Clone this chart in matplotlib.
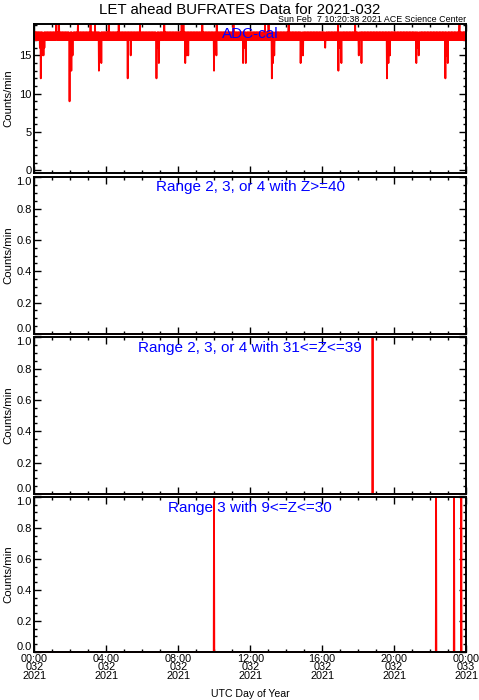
import numpy as np
import matplotlib.pyplot as plt
from matplotlib.ticker import MultipleLocator

plt.rcParams['font.family'] = ['Liberation Sans', 'DejaVu Sans']

# minutes of day 2021-032
minutes = np.arange(1440)
hours = minutes / 60.0

# ADC-cal: 17/18 band repeated, plus dips and upward spikes (hour, value)
base_pattern = [18, 17, 18, 17, 18, 18, 17, 18, 17, 17]
adc_dips = [
    (0.30, 16), (0.35, 12), (0.42, 15), (0.50, 15), (0.55, 16),
    (1.95, 9), (2.05, 13), (2.12, 15),
    (3.58, 13), (3.66, 16), (3.72, 14),
    (5.18, 12), (5.35, 15),
    (6.79, 12), (6.85, 16), (6.92, 14),
    (8.39, 14), (8.47, 15), (8.55, 15),
    (9.98, 13), (10.06, 16), (10.12, 15),
    (11.60, 14), (11.68, 16), (11.75, 14),
    (13.20, 12), (13.27, 14), (13.33, 15),
    (14.80, 14), (14.86, 15), (14.94, 15),
    (16.16, 16), (16.90, 13), (16.98, 16), (17.06, 14),
    (18.04, 15), (18.18, 14),
    (19.60, 12), (19.68, 14), (19.76, 15),
    (21.23, 14), (21.30, 16), (21.36, 15),
    (22.85, 12), (22.92, 15), (22.99, 14),
]
adc_spikes = [1.22, 1.37, 2.41, 3.12, 3.36, 4.14, 4.68, 5.86, 7.22, 8.18,
              8.28, 9.33, 10.13, 11.06, 12.82, 13.01, 14.14, 16.89, 17.83, 23.64]

# other channels: hours where the count is 1 (otherwise 0)
z40_hits = []
z31_39_hits = [18.80]
z9_30_hits = [9.98, 22.33, 23.33, 23.74]

panel_labels = ["ADC-cal", "Range 2, 3, or 4 with Z>=40",
                "Range 2, 3, or 4 with 31<=Z<=39", "Range 3 with 9<=Z<=30"]
xtick_hours = [0, 4, 8, 12, 16, 20, 24]
xtick_labels = ["00:00\n032\n2021", "04:00\n032\n2021", "08:00\n032\n2021",
                "12:00\n032\n2021", "16:00\n032\n2021", "20:00\n032\n2021",
                "00:00\n033\n2021"]

adc = np.resize(np.array(base_pattern, dtype=float), 1440)
for h, v in adc_dips:
    adc[int(round(h * 60))] = v
for h in adc_spikes:
    adc[int(round(h * 60))] = 19


def hits_to_series(hits):
    s = np.zeros(1440)
    for h in hits:
        s[min(int(round(h * 60)), 1439)] = 1
    return s


series = [adc, hits_to_series(z40_hits), hits_to_series(z31_39_hits),
          hits_to_series(z9_30_hits)]

fig = plt.figure(figsize=(4.79, 7.0), dpi=100)
left, width = 0.072, 0.901
boxes = [(0.7524, 0.2133), (0.5229, 0.2238), (0.2943, 0.2238), (0.0686, 0.2214)]
label_y = [0.93, 0.94, 0.93, 0.93]

for i, (b, h) in enumerate(boxes):
    ax = fig.add_axes([left, b, width, h])
    ax.plot(hours, series[i], color="red", lw=1.3, clip_on=(i == 0))
    ax.set_xlim(0, 24)
    if i == 0:
        ax.set_ylim(-0.4, 19.1)
        ax.set_yticks([0, 5, 10, 15])
        ax.yaxis.set_minor_locator(MultipleLocator(1))
    else:
        ax.set_ylim(0, 1.0)
        ax.set_yticks([0, 0.2, 0.4, 0.6, 0.8, 1.0])
        ax.set_yticklabels(["0.0", "0.2", "0.4", "0.6", "0.8", "1.0"])
        ax.yaxis.set_minor_locator(MultipleLocator(0.05))
        ylabs = ax.get_yticklabels()
        ylabs[0].set_va("bottom")
        ylabs[-1].set_va("top")
    ax.set_xticks(xtick_hours)
    ax.xaxis.set_minor_locator(MultipleLocator(1))
    if i == 3:
        ax.set_xticklabels(xtick_labels, linespacing=0.8)
    else:
        ax.set_xticklabels([])
    ax.tick_params(which="both", direction="in", top=True, right=True,
                   width=1.0, labelsize=8, pad=2)
    ax.tick_params(axis="x", labelsize=7.8, pad=1.5)
    ax.tick_params(which="major", length=5)
    ax.tick_params(which="minor", length=2.5)
    for sp in ax.spines.values():
        sp.set_linewidth(1.4)
    ax.set_ylabel("Counts/min", fontsize=8.2)
    ax.yaxis.set_label_coords(-0.048, 0.5)
    ax.text(0.5, label_y[i], panel_labels[i], transform=ax.transAxes,
            ha="center", va="center", color="blue", fontsize=11, zorder=5)

fig.text(0.5, 0.986, "LET ahead BUFRATES Data for 2021-032", ha="center",
         va="center", fontsize=10.8)
fig.text(0.973, 0.9715, "Sun Feb  7 10:20:38 2021 ACE Science Center",
         ha="right", va="center", fontsize=6.4)
fig.text(0.522, 0.0086, "UTC Day of Year", ha="center", va="center",
         fontsize=7.6)

fig.savefig("out.png", dpi=100)
